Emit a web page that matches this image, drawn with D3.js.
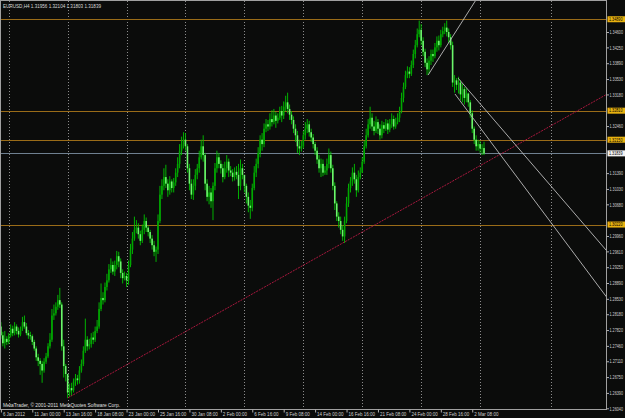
<!DOCTYPE html>
<html>
<head>
<meta charset="utf-8">
<script src="https://cdn.jsdelivr.net/npm/d3@7"></script>
<style>
  body { margin: 0; background: #0b0c0b; }
  svg { display: block; }
  text { font-family: "Liberation Sans", Arial, sans-serif; }
</style>
</head>
<body>
<div id="chart"></div>
<script>
// EURUSD H4, 6 Jan 2012 08:00 .. 5 Mar 2012 08:00 (bar index 0..246)
const firstOpen = 1.2790;

const closes = [
  1.2770,1.2752,1.2762,1.2755,1.2770,1.2785,1.2775,1.2790,1.2780,1.2772,
  1.2785,1.2800,1.2790,1.2775,1.2770,1.2768,1.2755,1.2740,1.2720,1.2712,
  1.2705,1.2690,1.2710,1.2722,1.2745,1.2760,1.2815,1.2820,1.2835,1.2850,
  1.2840,1.2745,1.2700,1.2682,1.2640,1.2650,1.2645,1.2665,1.2672,1.2668,
  1.2690,1.2705,1.2735,1.2760,1.2745,1.2750,1.2765,1.2760,1.2780,1.2790,
  1.2830,1.2855,1.2850,1.2880,1.2895,1.2920,1.2930,1.2915,1.2930,1.2950,
  1.2938,1.2912,1.2900,1.2905,1.2895,1.2930,1.2965,1.2990,1.3010,1.3015,
  1.3000,1.2985,1.3010,1.3030,1.3015,1.3005,1.2990,1.2975,1.2960,1.2965,
  1.3030,1.3090,1.3110,1.3130,1.3115,1.3100,1.3120,1.3105,1.3118,1.3140,
  1.3160,1.3190,1.3205,1.3215,1.3200,1.3150,1.3115,1.3090,1.3110,1.3135,
  1.3150,1.3175,1.3200,1.3180,1.3115,1.3085,1.3095,1.3075,1.3110,1.3150,
  1.3175,1.3160,1.3150,1.3130,1.3150,1.3165,1.3145,1.3140,1.3130,1.3142,
  1.3135,1.3110,1.3150,1.3135,1.3110,1.3085,1.3065,1.3060,1.3105,1.3140,
  1.3160,1.3185,1.3215,1.3205,1.3240,1.3250,1.3245,1.3262,1.3255,1.3270,
  1.3258,1.3265,1.3280,1.3270,1.3290,1.3300,1.3285,1.3272,1.3260,1.3240,
  1.3225,1.3200,1.3195,1.3200,1.3225,1.3240,1.3250,1.3232,1.3220,1.3205,
  1.3190,1.3170,1.3150,1.3160,1.3140,1.3145,1.3160,1.3180,1.3150,1.3110,
  1.3070,1.3040,1.3030,1.3010,1.2995,1.3030,1.3070,1.3105,1.3120,1.3140,
  1.3125,1.3100,1.3130,1.3140,1.3165,1.3200,1.3225,1.3250,1.3265,1.3245,
  1.3235,1.3255,1.3240,1.3225,1.3248,1.3240,1.3252,1.3238,1.3250,1.3262,
  1.3245,1.3255,1.3265,1.3280,1.3310,1.3335,1.3362,1.3370,1.3365,1.3385,
  1.3410,1.3430,1.3455,1.3465,1.3440,1.3415,1.3390,1.3375,1.3395,1.3410,
  1.3405,1.3425,1.3440,1.3430,1.3455,1.3462,1.3470,1.3460,1.3448,1.3430,
  1.3345,1.3350,1.3340,1.3345,1.3318,1.3330,1.3310,1.3320,1.3300,1.3275,
  1.3240,1.3215,1.3200,1.3205,1.3195,1.3196,1.31839
];

const highs = [
  1.2800,1.2778,1.2780,1.2768,1.2775,1.2795,1.2792,1.2800,1.2795,1.2788,
  1.2790,1.2812,1.2815,1.2798,1.2782,1.2778,1.2772,1.2760,1.2745,1.2728,
  1.2718,1.2712,1.2718,1.2730,1.2752,1.2775,1.2830,1.2840,1.2845,1.2862,
  1.2878,1.2845,1.2760,1.2705,1.2668,1.2660,1.2662,1.2672,1.2682,1.2680,
  1.2700,1.2715,1.2745,1.2808,1.2768,1.2762,1.2775,1.2778,1.2790,1.2805,
  1.2845,1.2888,1.2868,1.2890,1.2910,1.2932,1.2945,1.2938,1.2940,1.2962,
  1.2960,1.2945,1.2920,1.2915,1.2912,1.2940,1.2978,1.3005,1.3040,1.3032,
  1.3025,1.3008,1.3022,1.3045,1.3038,1.3020,1.3010,1.2998,1.2985,1.2972,
  1.3045,1.3110,1.3125,1.3150,1.3158,1.3125,1.3132,1.3125,1.3128,1.3150,
  1.3175,1.3205,1.3222,1.3232,1.3230,1.3205,1.3160,1.3125,1.3125,1.3148,
  1.3160,1.3190,1.3215,1.3225,1.3185,1.3125,1.3110,1.3105,1.3118,1.3162,
  1.3190,1.3185,1.3168,1.3160,1.3165,1.3180,1.3172,1.3155,1.3148,1.3152,
  1.3155,1.3160,1.3170,1.3160,1.3130,1.3115,1.3095,1.3078,1.3115,1.3155,
  1.3172,1.3198,1.3225,1.3230,1.3252,1.3262,1.3260,1.3275,1.3282,1.3285,
  1.3278,1.3275,1.3290,1.3292,1.3302,1.3315,1.3322,1.3295,1.3280,1.3268,
  1.3250,1.3235,1.3215,1.3212,1.3235,1.3255,1.3262,1.3258,1.3240,1.3228,
  1.3210,1.3198,1.3180,1.3172,1.3170,1.3155,1.3172,1.3195,1.3188,1.3158,
  1.3118,1.3075,1.3050,1.3040,1.3020,1.3040,1.3085,1.3115,1.3130,1.3152,
  1.3160,1.3135,1.3145,1.3152,1.3175,1.3212,1.3240,1.3262,1.3290,1.3275,
  1.3258,1.3268,1.3262,1.3250,1.3258,1.3255,1.3262,1.3260,1.3262,1.3275,
  1.3270,1.3265,1.3275,1.3290,1.3322,1.3345,1.3372,1.3382,1.3380,1.3395,
  1.3420,1.3442,1.3468,1.3486,1.3478,1.3448,1.3422,1.3400,1.3405,1.3420,
  1.3420,1.3435,1.3450,1.3452,1.3465,1.3472,1.3480,1.3486,1.3468,1.3455,
  1.3438,1.3362,1.3355,1.3358,1.3350,1.3342,1.3335,1.3332,1.3322,1.3305,
  1.3282,1.3245,1.3225,1.3215,1.3212,1.3205,1.32104
];

const lows = [
  1.2762,1.2745,1.2740,1.2748,1.2750,1.2765,1.2768,1.2770,1.2772,1.2765,
  1.2768,1.2780,1.2785,1.2770,1.2762,1.2760,1.2748,1.2735,1.2712,1.2700,
  1.2680,1.2662,1.2685,1.2705,1.2718,1.2740,1.2755,1.2805,1.2815,1.2828,
  1.2832,1.2735,1.2674,1.2665,1.2627,1.2630,1.2632,1.2640,1.2655,1.2658,
  1.2660,1.2685,1.2700,1.2730,1.2735,1.2738,1.2742,1.2750,1.2755,1.2775,
  1.2785,1.2825,1.2840,1.2845,1.2872,1.2890,1.2912,1.2908,1.2905,1.2920,
  1.2925,1.2900,1.2888,1.2895,1.2880,1.2885,1.2925,1.2955,1.2985,1.3002,
  1.2990,1.2975,1.2980,1.3000,1.3005,1.2995,1.2980,1.2965,1.2950,1.2937,
  1.2955,1.3025,1.3080,1.3100,1.3105,1.3085,1.3090,1.3095,1.3095,1.3110,
  1.3130,1.3150,1.3180,1.3195,1.3190,1.3140,1.3100,1.3080,1.3078,1.3100,
  1.3125,1.3140,1.3170,1.3165,1.3100,1.3075,1.3068,1.3060,1.3032,1.3100,
  1.3140,1.3150,1.3138,1.3118,1.3125,1.3140,1.3130,1.3132,1.3120,1.3122,
  1.3125,1.3080,1.3100,1.3125,1.3095,1.3070,1.3050,1.3035,1.3052,1.3100,
  1.3130,1.3150,1.3175,1.3190,1.3198,1.3232,1.3235,1.3238,1.3245,1.3250,
  1.3242,1.3252,1.3260,1.3255,1.3262,1.3280,1.3275,1.3260,1.3250,1.3230,
  1.3210,1.3185,1.3180,1.3188,1.3195,1.3215,1.3230,1.3222,1.3210,1.3195,
  1.3180,1.3160,1.3140,1.3130,1.3132,1.3135,1.3135,1.3150,1.3140,1.3100,
  1.3055,1.3030,1.3015,1.3000,1.2985,1.2980,1.3025,1.3062,1.3095,1.3110,
  1.3115,1.3085,1.3095,1.3125,1.3140,1.3160,1.3195,1.3220,1.3240,1.3235,
  1.3225,1.3230,1.3228,1.3215,1.3218,1.3230,1.3235,1.3228,1.3232,1.3242,
  1.3238,1.3240,1.3250,1.3255,1.3275,1.3300,1.3330,1.3355,1.3355,1.3360,
  1.3378,1.3400,1.3425,1.3448,1.3430,1.3405,1.3380,1.3362,1.3365,1.3385,
  1.3392,1.3400,1.3415,1.3418,1.3425,1.3448,1.3455,1.3450,1.3435,1.3420,
  1.3335,1.3322,1.3328,1.3320,1.3305,1.3300,1.3295,1.3300,1.3290,1.3265,
  1.3230,1.3205,1.3190,1.3190,1.3185,1.3180,1.31803
];

// time axis labels (bar index where the label sits)
const timeBars = [0, 16, 32, 48, 64, 80, 96, 112, 128, 144, 160, 176, 192, 208, 224, 240];
const timeLabels = ["6 Jan 2012", "11 Jan 00:00", "13 Jan 16:00", "18 Jan 08:00", "23 Jan 00:00",
  "25 Jan 16:00", "30 Jan 08:00", "2 Feb 00:00", "6 Feb 16:00", "9 Feb 08:00", "14 Feb 00:00",
  "16 Feb 16:00", "21 Feb 08:00", "24 Feb 00:00", "28 Feb 16:00", "2 Mar 08:00"];

// weekly grid (Monday 00:00)
const gridBars = [4, 34, 64, 94, 124, 154, 184, 214, 244, 280];

const priceTicks = [1.26040, 1.26390, 1.26750, 1.27110, 1.27460, 1.27820, 1.28180, 1.28530,
  1.28890, 1.29250, 1.29610, 1.29960, 1.30320, 1.30680, 1.31030, 1.31390, 1.31750, 1.32100,
  1.32460, 1.32820, 1.33180, 1.33530, 1.33890, 1.34250, 1.34600];

// horizontal levels and the bid line
const levels = [1.34890, 1.32810, 1.32150, 1.30220];
const bid = 1.31839;

// trend lines [bar, price] pairs, drawn as rays from the first point
const redTrend = [[34.2, 1.2628], [246, 1.3161]];
const upRay = [[217.5, 1.3362], [241.9, 1.3533]];
const downUpper = [[232.8, 1.3355], [280, 1.3110]];
const downLower = [[231.2, 1.3319], [280, 1.3027]];

const header = "EURUSD,H4 1.31956 1.32104 1.31803 1.31839";
const copyright = "MetaTrader, \u00a9 2001-2011 MetaQuotes Software Corp.";

const svgWidth = 625;
const svgHeight = 418;
const plotRight = 606.5;
const plotBottom = 409.5;

const svg = d3.select("#chart")
  .append("svg")
  .attr("width", svgWidth)
  .attr("height", svgHeight);

svg.append("rect")
  .attr("width", svgWidth)
  .attr("height", svgHeight)
  .attr("fill", "#0b0c0b");

svg.append("clipPath").attr("id", "plotClip")
  .append("rect")
  .attr("x", 0).attr("y", 0)
  .attr("width", plotRight).attr("height", plotBottom);

const x = d3.scaleLinear().domain([0, 300]).range([0.88, 0.88 + 300 * 1.964]);
const y = d3.scaleLinear().domain([1.2604, 1.3460]).range([408.3, 32]);

const plot = svg.append("g").attr("clip-path", "url(#plotClip)");

// grid
plot.selectAll(".grid")
  .data(gridBars)
  .enter()
  .append("line")
  .attr("x1", d => Math.round(x(d)) + 0.5)
  .attr("x2", d => Math.round(x(d)) + 0.5)
  .attr("y1", 1)
  .attr("y2", plotBottom)
  .attr("stroke", "#8c8c8c")
  .attr("stroke-dasharray", "1,2");

// horizontal levels
plot.selectAll(".level")
  .data(levels)
  .enter()
  .append("line")
  .attr("x1", 0)
  .attr("x2", plotRight)
  .attr("y1", d => Math.round(y(d)) + 0.5)
  .attr("y2", d => Math.round(y(d)) + 0.5)
  .attr("stroke", "#9a6c18");

// bid line
plot.append("line")
  .attr("x1", 0)
  .attr("x2", plotRight)
  .attr("y1", Math.round(y(bid)) + 0.5)
  .attr("y2", Math.round(y(bid)) + 0.5)
  .attr("stroke", "#6f8090");

// candles
const bars = closes.map((c, i) => {
  const o = i === 0 ? firstOpen : closes[i - 1];
  return { i, o, c, h: Math.max(highs[i], o, c), l: Math.min(lows[i], o, c) };
});

plot.selectAll(".wick")
  .data(bars)
  .enter()
  .append("line")
  .attr("x1", d => x(d.i))
  .attr("x2", d => x(d.i))
  .attr("y1", d => y(d.h))
  .attr("y2", d => y(d.l))
  .attr("stroke", "#00c400")
  .attr("stroke-width", 0.9);

plot.selectAll(".body")
  .data(bars)
  .enter()
  .append("rect")
  .attr("x", d => x(d.i) - 0.8)
  .attr("width", 1.6)
  .attr("y", d => y(Math.max(d.o, d.c)))
  .attr("height", d => Math.max(0.7, Math.abs(y(d.o) - y(d.c))))
  .attr("fill", d => d.c >= d.o ? "#00a800" : "#6cf56c");

// trend lines as rays to the right edge
function ray(pts) {
  const [[b1, p1], [b2, p2]] = pts;
  const bEnd = x.invert(plotRight);
  const pEnd = p1 + (p2 - p1) * (bEnd - b1) / (b2 - b1);
  return [[x(b1), y(p1)], [plotRight, y(pEnd)]];
}

const line = d3.line();

plot.append("path")
  .attr("d", line(ray(redTrend)))
  .attr("fill", "none")
  .attr("stroke", "#a8183e")
  .attr("stroke-dasharray", "2,1");

[upRay, downUpper, downLower].forEach(pts => {
  plot.append("path")
    .attr("d", line(ray(pts)))
    .attr("fill", "none")
    .attr("stroke", "#bdbdbd")
    .attr("stroke-width", 0.9);
});

// border
svg.append("rect")
  .attr("x", 0.5).attr("y", 0.5)
  .attr("width", plotRight - 0.5)
  .attr("height", plotBottom - 0.5)
  .attr("fill", "none")
  .attr("stroke", "#a0a0a0");

// price axis (labels hidden where a level tag sits on top of them)
const tags = levels.map(v => ({ v, fill: "#e8b210" })).concat([{ v: bid, fill: "#f2f2f2" }]);
const shownTicks = priceTicks.filter(t => tags.every(g => Math.abs(y(t) - y(g.v)) > 5));

const rightAxis = d3.axisRight(y)
  .tickValues(shownTicks)
  .tickFormat(d3.format(".5f"))
  .tickSize(2.5)
  .tickPadding(0.5);

const yAxis = svg.append("g")
  .attr("transform", `translate(${plotRight}, 0)`)
  .call(rightAxis);
yAxis.select(".domain").remove();
yAxis.selectAll("line").attr("stroke", "#b0b0b0");
yAxis.selectAll("text")
  .attr("fill", "#cfcfcf")
  .attr("textLength", 13.5)
  .attr("lengthAdjust", "spacingAndGlyphs")
  .style("font-size", "5.3px");

// level and bid labels on the axis
const tagGroup = svg.append("g");
tagGroup.selectAll("rect")
  .data(tags)
  .enter()
  .append("rect")
  .attr("x", plotRight + 1)
  .attr("y", d => y(d.v) - 3)
  .attr("width", svgWidth - plotRight)
  .attr("height", 6)
  .attr("fill", d => d.fill);
tagGroup.selectAll("text")
  .data(tags)
  .enter()
  .append("text")
  .attr("x", plotRight + 2.5)
  .attr("y", d => y(d.v))
  .attr("dy", "0.34em")
  .attr("fill", "#000")
  .attr("textLength", 13.5)
  .attr("lengthAdjust", "spacingAndGlyphs")
  .style("font-size", "5.3px")
  .text(d => d3.format(".5f")(d.v));

// time axis
const bottomAxis = d3.axisBottom(x)
  .tickValues(timeBars)
  .tickFormat((d, i) => timeLabels[i])
  .tickSize(3);

const xAxis = svg.append("g")
  .attr("transform", `translate(0, ${plotBottom})`)
  .call(bottomAxis);
xAxis.select(".domain").remove();
xAxis.selectAll("line").attr("stroke", "#b0b0b0");
xAxis.selectAll("text")
  .attr("y", 2)
  .attr("x", 1.5)
  .attr("dy", "0.8em")
  .attr("text-anchor", "start")
  .attr("fill", "#cfcfcf")
  .attr("textLength", (d, i) => timeLabels[i].length * 2.2)
  .attr("lengthAdjust", "spacingAndGlyphs")
  .style("font-size", "5.5px");

// texts
svg.append("text")
  .attr("x", 3)
  .attr("y", 8)
  .attr("fill", "#d8d8d8")
  .attr("textLength", 98)
  .attr("lengthAdjust", "spacingAndGlyphs")
  .style("font-size", "5.8px")
  .text(header);

svg.append("text")
  .attr("x", 3)
  .attr("y", 407)
  .attr("fill", "#e0e0e0")
  .attr("textLength", 117)
  .attr("lengthAdjust", "spacingAndGlyphs")
  .style("font-size", "5.6px")
  .text(copyright);
</script>
</body>
</html>
